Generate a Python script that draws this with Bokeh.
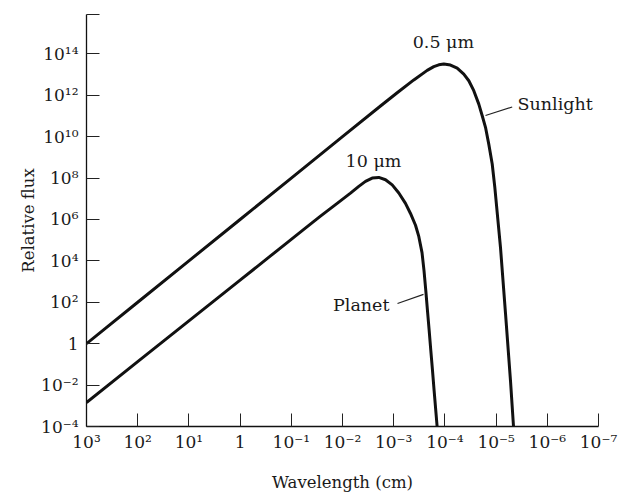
import numpy as np
from bokeh.plotting import figure
from bokeh.models import Range1d, FixedTicker, Label
from bokeh.embed import file_html
from bokeh.resources import INLINE

# ---- data (log10 of wavelength in cm, log10 of relative flux)
sun_log_wl = [3, 2, 1, 0, -1, -2, -2.742, -3.068, -3.393, -3.654, -3.783, -3.881,
              -3.979, -4.109, -4.240, -4.369, -4.467, -4.564, -4.662, -4.729,
              -4.793, -4.857, -4.924, -4.975, -5.086, -5.184, -5.281, -5.34]
sun_log_flux = [0, 2, 4, 6, 8, 10, 11.48, 12.12, 12.74, 13.20, 13.38, 13.47,
                13.51, 13.46, 13.31, 13.02, 12.70, 12.22, 11.57, 11.01,
                10.45, 9.64, 8.68, 7.55, 4.64, 1.45, -1.78, -4.0]

planet_log_wl = [3, 2, 1, 0, -0.594, -0.920, -1.244, -1.570, -1.896, -2.156, -2.318,
                 -2.449, -2.580, -2.709, -2.840, -2.971, -3.100, -3.230, -3.328,
                 -3.426, -3.490, -3.553, -3.592, -3.627, -3.660, -3.693, -3.725,
                 -3.758, -3.789, -3.822, -3.848]
planet_log_flux = [-2.84, -0.87, 1.10, 3.07, 4.24, 4.88, 5.52, 6.16, 6.78, 7.27, 7.60,
                   7.84, 8.00, 8.03, 7.92, 7.67, 7.28, 6.78, 6.29,
                   5.72, 5.18, 4.40, 3.53, 2.56, 1.59, 0.63, -0.33,
                   -1.30, -2.26, -3.23, -4.0]

x_tick_exp = [3, 2, 1, 0, -1, -2, -3, -4, -5, -6, -7]
x_tick_labels = ["10³", "10²", "10¹", "1", "10⁻¹", "10⁻²", "10⁻³", "10⁻⁴", "10⁻⁵", "10⁻⁶", "10⁻⁷"]
y_tick_exp = [-4, -2, 0, 2, 4, 6, 8, 10, 12, 14, 15.9]
y_tick_labels = ["10⁻⁴", "10⁻²", "1", "10²", "10⁴", "10⁶", "10⁸", "10¹⁰", "10¹²", "10¹⁴", ""]

FONT = "DejaVu Serif"

p = figure(output_backend="svg", toolbar_location=None,
           x_axis_type="log", y_axis_type="log",
           x_range=Range1d(10.0 ** 3, 10.0 ** -7),
           y_range=Range1d(10.0 ** -4, 10.0 ** 15.9),
           frame_width=512, frame_height=412,
           min_border_left=86, min_border_top=14, min_border_right=25, min_border_bottom=70)

p.outline_line_color = None
p.grid.visible = False
p.background_fill_color = "white"
p.border_fill_color = "white"

xt = [10.0 ** e for e in x_tick_exp]
yt = [10.0 ** e for e in y_tick_exp]
p.xaxis.ticker = FixedTicker(ticks=xt, minor_ticks=[])
p.yaxis.ticker = FixedTicker(ticks=yt, minor_ticks=[])
p.xaxis.major_label_overrides = {t: l for t, l in zip(xt, x_tick_labels)}
p.yaxis.major_label_overrides = {t: l for t, l in zip(yt, y_tick_labels)}

for ax in (p.xaxis, p.yaxis):
    ax.axis_line_color = "#111111"
    ax.axis_line_width = 1.3
    ax.major_tick_line_color = "#222222"
    ax.major_tick_line_width = 1
    ax.major_tick_in = 13
    ax.major_tick_out = 0
    ax.minor_tick_in = 0
    ax.minor_tick_out = 0
    ax.major_label_text_font = FONT
    ax.major_label_text_font_size = "17px"
    ax.major_label_text_color = "#1a1a1a"
    ax.axis_label_text_font = FONT
    ax.axis_label_text_font_style = "normal"
    ax.axis_label_text_font_size = "16.5px"
    ax.axis_label_text_color = "#1a1a1a"

p.xaxis.major_label_standoff = 5
p.yaxis.major_label_standoff = 8
p.xaxis.axis_label = "Wavelength (cm)"
p.yaxis.axis_label = "Relative flux"
p.xaxis.axis_label_standoff = 18
p.yaxis.axis_label_standoff = 0

sun_x = [10.0 ** v for v in sun_log_wl]
sun_y = [10.0 ** v for v in sun_log_flux]
pl_x = [10.0 ** v for v in planet_log_wl]
pl_y = [10.0 ** v for v in planet_log_flux]

p.line(sun_x, sun_y, line_color="#111111", line_width=3, line_join="round")
p.line(pl_x, pl_y, line_color="#111111", line_width=3, line_join="round")

# leader lines (annotation positions, log10 units)
p.segment(x0=[10 ** -4.793, 10 ** -3.582], y0=[10 ** 11.02, 10 ** 2.38],
          x1=[10 ** -5.314, 10 ** -3.074], y1=[10 ** 11.43, 10 ** 1.94],
          line_color="#222222", line_width=1.2)

def lab(txt, lx, ly, align):
    p.add_layout(Label(x=10 ** lx, y=10 ** ly, text=txt, text_font=FONT,
                       text_font_size="17.5px", text_color="#1a1a1a",
                       text_align=align, text_baseline="middle"))

lab("0.5 \u03bcm", -3.97, 14.55, "center")
lab("10 \u03bcm", -2.605, 8.80, "center")
lab("Sunlight", -5.418, 11.60, "left")
lab("Planet", -2.918, 1.845, "right")

open("out.html", "w").write(file_html(p, INLINE))
